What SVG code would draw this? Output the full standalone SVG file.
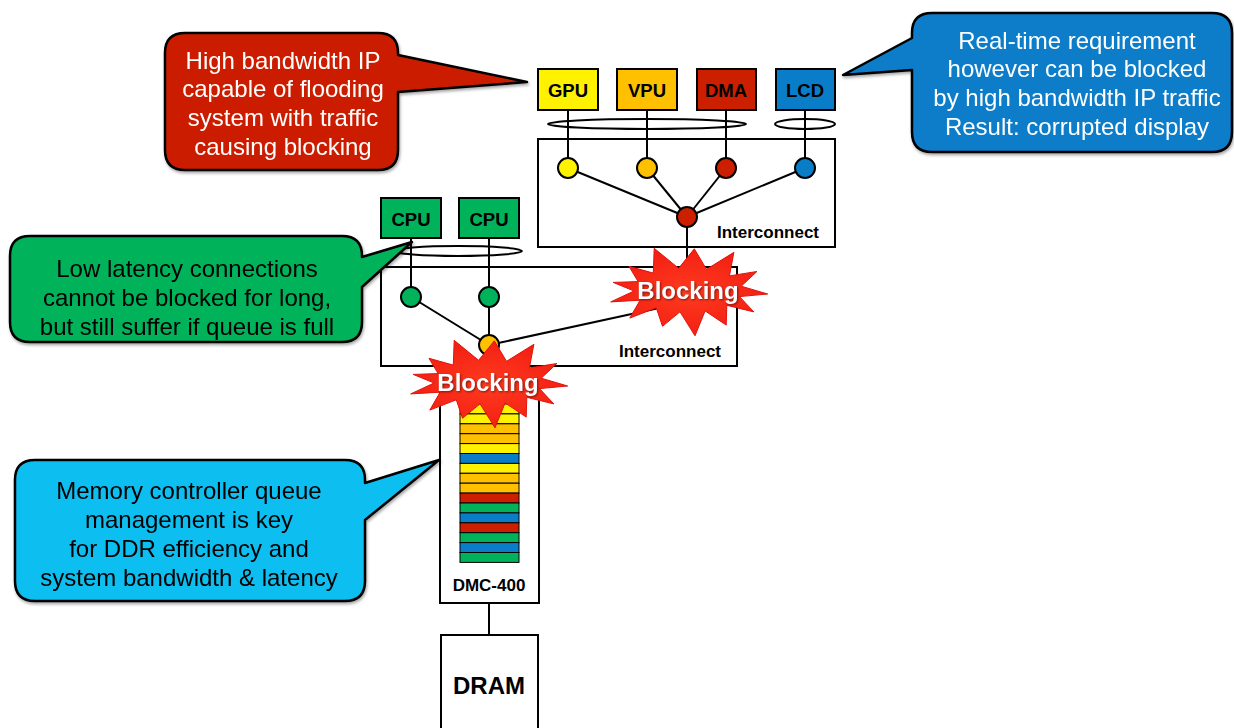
<svg xmlns="http://www.w3.org/2000/svg" width="1234" height="728" viewBox="0 0 1234 728">
<style>
.box{stroke:#000;stroke-width:2}
.frame{fill:#fff;stroke:#000;stroke-width:2}
.lbl{font-family:"Liberation Sans",Arial,sans-serif;font-weight:bold;font-size:18.5px;text-anchor:middle;fill:#000}
.ic{font-family:"Liberation Sans",Arial,sans-serif;font-weight:bold;font-size:17px;text-anchor:middle;fill:#000}
.big{font-family:"Liberation Sans",Arial,sans-serif;font-weight:bold;font-size:24px;text-anchor:middle;fill:#000}
.co{font-family:"Liberation Sans",Arial,sans-serif;font-size:24px;text-anchor:middle}
.w{fill:#fff}
.k{fill:#000}
.ln{stroke:#000;stroke-width:2;fill:none}
.dot{stroke:#000;stroke-width:2}
.q{stroke:#000;stroke-width:1}
.blk{font-family:"Liberation Sans",Arial,sans-serif;font-weight:bold;font-size:24px;text-anchor:middle;fill:#fff}
.call{stroke:#000;stroke-width:2.5;stroke-linejoin:round}
</style>
<defs>
<polygon id="star" points="79.7,4 51.5,6.6 65.8,21.9 38.8,15.3 38.2,35.1 17.1,20.9 7,45.8 -8,21.8 -25.5,36.3 -31.7,17.8 -58.2,28.1 -47.9,10.2 -77.3,11.9 -53.9,1 -74.8,-7.6 -49.9,-8.4 -59,-23.7 -34.7,-16.9 -33.8,-41.7 -9.4,-21.7 6.3,-41.2 18.5,-20.7 45.9,-37.7 41.4,-14.1 68.9,-18.5 53.2,-3.8"/>
<radialGradient id="sg" cx="50%" cy="50%" r="60%">
<stop offset="0" stop-color="#ff3b1f"/>
<stop offset="1" stop-color="#f01a10"/>
</radialGradient>
<filter id="sh" x="-10%" y="-10%" width="120%" height="130%">
<feDropShadow dx="1" dy="2" stdDeviation="1.5" flood-color="#000" flood-opacity="0.35"/>
</filter>
</defs>

<g id="interconnect1">
<rect class="frame" x="538" y="139" width="297" height="108"/>
<text class="ic" x="768" y="238">Interconnect</text>
</g>
<g id="interconnect2">
<rect class="frame" x="381" y="267" width="356" height="99"/>
<text class="ic" x="670" y="357">Interconnect</text>
</g>
<g id="dmc400">
<rect class="frame" x="440" y="366" width="99" height="237"/>
<g class="q">
<rect x="460" y="404" width="59" height="9.9" fill="#fff200"/>
<rect x="460" y="413.9" width="59" height="9.9" fill="#fff200"/>
<rect x="460" y="423.8" width="59" height="9.9" fill="#ffc000"/>
<rect x="460" y="433.7" width="59" height="9.9" fill="#ffc000"/>
<rect x="460" y="443.6" width="59" height="9.9" fill="#fff200"/>
<rect x="460" y="453.5" width="59" height="9.9" fill="#0a7dc9"/>
<rect x="460" y="463.4" width="59" height="9.9" fill="#fff200"/>
<rect x="460" y="473.3" width="59" height="9.9" fill="#ffc000"/>
<rect x="460" y="483.2" width="59" height="9.9" fill="#ffc000"/>
<rect x="460" y="493.1" width="59" height="9.9" fill="#cc1f00"/>
<rect x="460" y="503" width="59" height="9.9" fill="#00b35a"/>
<rect x="460" y="512.9" width="59" height="9.9" fill="#0a7dc9"/>
<rect x="460" y="522.8" width="59" height="9.9" fill="#cc1f00"/>
<rect x="460" y="532.7" width="59" height="9.9" fill="#00b35a"/>
<rect x="460" y="542.6" width="59" height="9.9" fill="#0a7dc9"/>
<rect x="460" y="552.5" width="59" height="9.9" fill="#00b35a"/>
</g>
<text class="ic" x="489" y="591">DMC-400</text>
</g>
<g id="dram">
<rect class="frame" x="441" y="635" width="97" height="100"/>
<text class="big" x="489" y="694">DRAM</text>
</g>

<g id="connectors">
<ellipse class="ln" cx="647" cy="124" rx="99" ry="5"/>
<ellipse class="ln" cx="805" cy="124" rx="30" ry="5"/>
<ellipse class="ln" cx="458" cy="251" rx="64" ry="5"/>
<line class="ln" x1="568" y1="110" x2="568" y2="168"/>
<line class="ln" x1="647" y1="110" x2="647" y2="168"/>
<line class="ln" x1="726" y1="110" x2="726" y2="168"/>
<line class="ln" x1="805" y1="110" x2="805" y2="168"/>
<line class="ln" x1="568" y1="168" x2="687" y2="217"/>
<line class="ln" x1="647" y1="168" x2="687" y2="217"/>
<line class="ln" x1="726" y1="168" x2="687" y2="217"/>
<line class="ln" x1="805" y1="168" x2="687" y2="217"/>
<polyline class="ln" points="687,217 687,302 489,345"/>
<line class="ln" x1="411" y1="238" x2="411" y2="297"/>
<line class="ln" x1="489" y1="238" x2="489" y2="297"/>
<line class="ln" x1="411" y1="297" x2="489" y2="345"/>
<line class="ln" x1="489" y1="297" x2="489" y2="345"/>
<line class="ln" x1="489" y1="345" x2="489" y2="404"/>
<line class="ln" x1="489" y1="603" x2="489" y2="635"/>
</g>

<g id="dots">
<circle class="dot" cx="568" cy="168" r="10" fill="#fff200"/>
<circle class="dot" cx="647" cy="168" r="10" fill="#ffc000"/>
<circle class="dot" cx="726" cy="168" r="10" fill="#cc1f00"/>
<circle class="dot" cx="805" cy="168" r="10" fill="#0a7dc9"/>
<circle class="dot" cx="687" cy="217" r="10" fill="#cc1f00"/>
<circle class="dot" cx="411" cy="297" r="10" fill="#00b35a"/>
<circle class="dot" cx="489" cy="297" r="10" fill="#00b35a"/>
<circle class="dot" cx="489" cy="345" r="10" fill="#ffc000"/>
</g>

<g id="gpu"><rect class="box" x="538" y="69" width="60" height="41" fill="#fff200"/><text class="lbl" x="568" y="97">GPU</text></g>
<g id="vpu"><rect class="box" x="617" y="69" width="60" height="41" fill="#ffc000"/><text class="lbl" x="647" y="97">VPU</text></g>
<g id="dma"><rect class="box" x="697" y="69" width="59" height="41" fill="#cc1f00"/><text class="lbl" x="726" y="97">DMA</text></g>
<g id="lcd"><rect class="box" x="776" y="69" width="59" height="41" fill="#0a7dc9"/><text class="lbl" x="805" y="97">LCD</text></g>
<g id="cpu1"><rect class="box" x="381" y="198" width="60" height="40" fill="#00b35a"/><text class="lbl" x="411" y="226">CPU</text></g>
<g id="cpu2"><rect class="box" x="459" y="198" width="60" height="40" fill="#00b35a"/><text class="lbl" x="489" y="226">CPU</text></g>

<g id="blocking1" transform="translate(688,290)">
<use href="#star" fill="url(#sg)" stroke="#e0140c" stroke-width="1"/>
<text class="blk" x="0" y="9" style="filter:drop-shadow(1px 1px 1px rgba(0,0,0,0.5))">Blocking</text>
</g>
<g id="blocking2" transform="translate(488,382)">
<use href="#star" fill="url(#sg)" stroke="#e0140c" stroke-width="1"/>
<text class="blk" x="0" y="9" style="filter:drop-shadow(1px 1px 1px rgba(0,0,0,0.5))">Blocking</text>
</g>

<g id="callout-red" filter="url(#sh)">
<path class="call" fill="#cc1f00" d="M185,33 H378 Q398,33 398,53 V55 L527,82 L398,92 V150 Q398,170 378,170 H185 Q165,170 165,150 V53 Q165,33 185,33 Z"/>
<text class="co w" x="283" y="69">High bandwidth IP</text>
<text class="co w" x="283" y="97">capable of flooding</text>
<text class="co w" x="283" y="126">system with traffic</text>
<text class="co w" x="283" y="155">causing blocking</text>
</g>
<g id="callout-blue" filter="url(#sh)">
<path class="call" fill="#0a7dc9" d="M932,13 H1212 Q1232,13 1232,33 V132 Q1232,152 1212,152 H932 Q912,152 912,132 V70 L843,75 L912,38 V33 Q912,13 932,13 Z"/>
<text class="co w" x="1077" y="49">Real-time requirement</text>
<text class="co w" x="1077" y="77">however can be blocked</text>
<text class="co w" x="1077" y="106">by high bandwidth IP traffic</text>
<text class="co w" x="1077" y="135">Result: corrupted display</text>
</g>
<g id="callout-green" filter="url(#sh)">
<path class="call" fill="#00b35a" d="M30,236 H342 Q362,236 362,256 V257 L412,242 L362,287 V322 Q362,342 342,342 H30 Q10,342 10,322 V256 Q10,236 30,236 Z"/>
<text class="co k" x="187" y="277">Low latency connections</text>
<text class="co k" x="187" y="306">cannot be blocked for long,</text>
<text class="co k" x="187" y="335">but still suffer if queue is full</text>
</g>
<g id="callout-lightblue" filter="url(#sh)">
<path class="call" fill="#0dbef0" d="M35,460 H345 Q365,460 365,480 V483 L439,460 L365,520 V581 Q365,601 345,601 H35 Q15,601 15,581 V480 Q15,460 35,460 Z"/>
<text class="co k" x="189" y="499">Memory controller queue</text>
<text class="co k" x="189" y="528">management is key</text>
<text class="co k" x="189" y="557">for DDR efficiency and</text>
<text class="co k" x="189" y="586">system bandwidth &amp; latency</text>
</g>
</svg>
